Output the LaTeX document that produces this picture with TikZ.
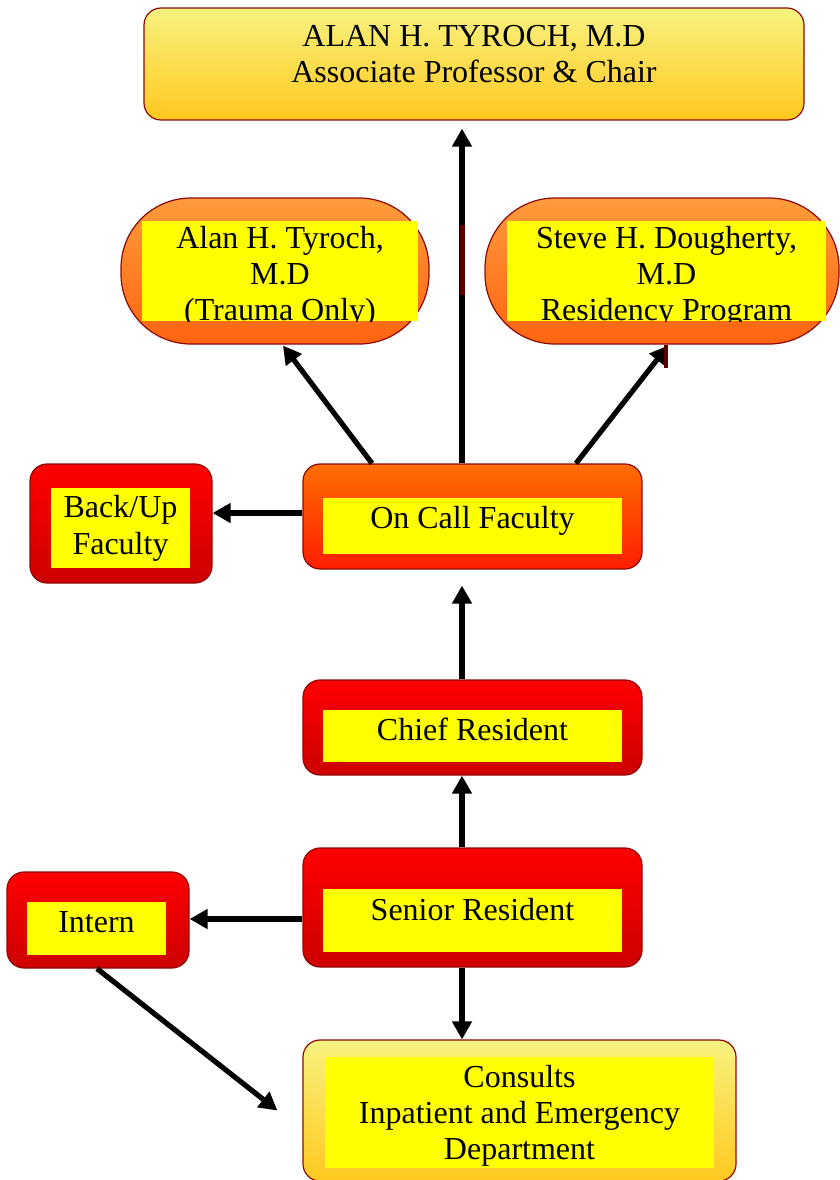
\documentclass[tikz,border=0pt]{standalone}
\usepackage{fontspec}
\setmainfont{Liberation Serif}
\usetikzlibrary{arrows.meta}
\definecolor{bord}{RGB}{140,10,10}
\definecolor{ylt}{RGB}{248,242,128}
\definecolor{ydk}{RGB}{255,200,30}
\definecolor{olt}{RGB}{255,155,60}
\definecolor{odk}{RGB}{255,100,15}
\definecolor{oclt}{RGB}{255,110,0}
\definecolor{ocdk}{RGB}{255,30,0}
\definecolor{rlt}{RGB}{255,0,0}
\definecolor{rdk}{RGB}{205,0,0}
\definecolor{inner}{RGB}{255,255,0}
\definecolor{darkmark}{RGB}{95,0,0}
\tikzset{
  box/.style={draw=bord, line width=1.2pt, rounded corners=17pt, inner sep=0pt},
  goldbox/.style={box, top color=ylt, bottom color=ydk},
  ovalbox/.style={box, rounded corners=70pt, top color=olt, bottom color=odk},
  ocbox/.style={box, top color=oclt, bottom color=ocdk},
  redbox/.style={box, top color=rlt, bottom color=rdk},
  inbox/.style={fill=inner, draw=none, inner sep=0pt},
  txt/.style={anchor=base, inner sep=0pt, font=\fontsize{32}{36}\selectfont},
  arr/.style={line width=5.2pt, draw=black, -{Triangle[length=18pt,width=19pt]}},
}
\begin{document}
\begin{tikzpicture}[x=1pt,y=-1pt]
\useasboundingbox (0,0) rectangle (839,1180);
% outer boxes
\node[goldbox, minimum width=660pt, minimum height=112pt] (top) at (474,64) {};
\node[ovalbox, minimum width=308pt, minimum height=146pt] (ovL) at (275,271) {};
\node[ovalbox, minimum width=354pt, minimum height=146pt] (ovR) at (662,271) {};
\node[redbox, minimum width=182pt, minimum height=119pt] (backup) at (121,523.5) {};
\node[ocbox, minimum width=339pt, minimum height=105pt] (oncall) at (472.5,516.5) {};
\node[redbox, minimum width=339pt, minimum height=95pt] (chief) at (472.5,727.5) {};
\node[redbox, minimum width=339pt, minimum height=119pt] (senior) at (472.5,907.5) {};
\node[redbox, minimum width=182pt, minimum height=96pt] (intern) at (98,920) {};
\node[goldbox, minimum width=433pt, minimum height=141pt] (consults) at (519.5,1110.5) {};
% inner yellow panels
\node[inbox, minimum width=276pt, minimum height=100pt] (ovLin) at (280,271) {};
\node[inbox, minimum width=319pt, minimum height=100pt] (ovRin) at (666.5,271) {};
\node[inbox, minimum width=139pt, minimum height=80pt] (backupin) at (120.5,528) {};
\node[inbox, minimum width=299pt, minimum height=56pt] (oncallin) at (472.5,526) {};
\node[inbox, minimum width=299pt, minimum height=52pt] (chiefin) at (472.5,736) {};
\node[inbox, minimum width=299pt, minimum height=63pt] (seniorin) at (472.5,920.5) {};
\node[inbox, minimum width=139pt, minimum height=53pt] (internin) at (96.5,928.5) {};
\node[inbox, minimum width=389pt, minimum height=111pt] (consultsin) at (519.5,1112.5) {};
% texts
\node[txt] (t1) at (474,47) {ALAN H. TYROCH, M.D};
\node[txt] (t2) at (474,83) {Associate Professor \& Chair};
\begin{scope}
\clip (ovLin.south west) rectangle (ovLin.north east);
\node[txt] (l1) at (280,248) {Alan H. Tyroch,};
\node[txt] (l2) at (280,284) {M.D};
\node[txt] (l3) at (280,320) {(Trauma Only)};
\end{scope}
\begin{scope}
\clip (ovRin.south west) rectangle (ovRin.north east);
\node[txt] (r1) at (666.5,248) {Steve H. Dougherty,};
\node[txt] (r2) at (666.5,284) {M.D};
\node[txt] (r3) at (666.5,320) {Residency Program};
\end{scope}
\node[txt] (b1) at (120.5,517) {Back/Up};
\node[txt] (b2) at (120.5,554) {Faculty};
\node[txt] (oc) at (472.5,528) {On Call Faculty};
\node[txt] (cr) at (472.5,740) {Chief Resident};
\node[txt] (sr) at (472.5,920) {Senior Resident};
\node[txt] (in) at (96.5,932) {Intern};
\node[txt] (c1) at (519.5,1087) {Consults};
\node[txt] (c2) at (519.5,1123) {Inpatient and Emergency};
\node[txt] (c3) at (519.5,1159) {Department};
% connectors
\draw[arr] ([xshift=-10.5pt]oncall.north) -- ([xshift=-12pt,yshift=-8pt]top.south);
\draw[arr] ([xshift=-100.5pt]oncall.north) -- ([xshift=8pt,yshift=-1pt]ovL.south);
\draw[arr] ([xshift=103.5pt]oncall.north) -- ([xshift=6pt,yshift=-1pt]ovR.south);
\draw[arr] ([yshift=3.5pt]oncall.west) -- ([yshift=10.5pt]backup.east);
\draw[arr] ([xshift=-10.5pt]chief.north) -- ([xshift=-10.5pt,yshift=-16pt]oncall.south);
\draw[arr] ([xshift=-10.5pt]senior.north) -- ([xshift=-10.5pt]chief.south);
\draw[arr] ([yshift=-11.5pt]senior.west) -- ([yshift=1pt]intern.east);
\draw[arr] ([xshift=-10.5pt]senior.south) -- ([xshift=-57.5pt]consults.north);
\draw[arr] ([xshift=-1pt]intern.south) -- ([xshift=-25pt]consults.west);
% small dark marks
\fill[darkmark] (459.5,225) rectangle (465,295);
\fill[darkmark] (663.5,345) rectangle (668,368);
\end{tikzpicture}
\end{document}
